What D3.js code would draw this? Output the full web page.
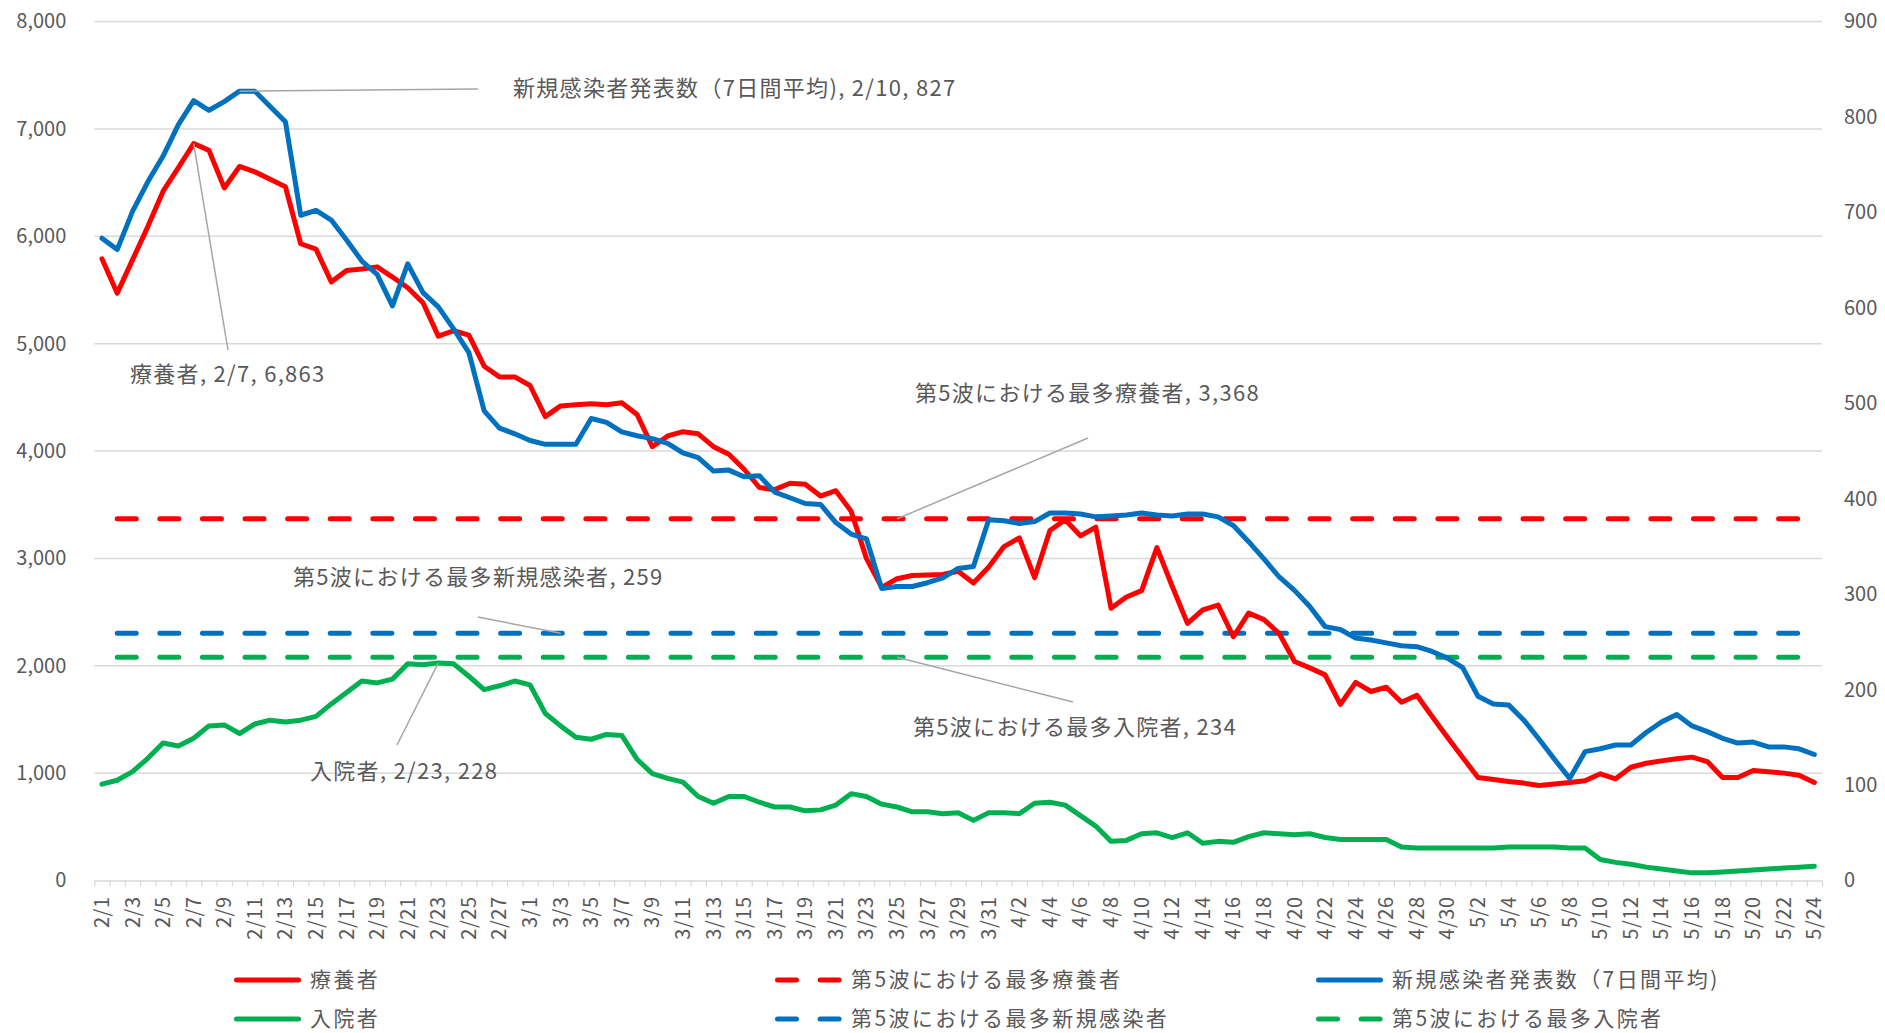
<!DOCTYPE html>
<html>
<head>
<meta charset="utf-8">
<script src="https://cdn.jsdelivr.net/npm/d3@7"></script>
<style>
  html, body { margin: 0; padding: 0; background: #fff; }
  svg { display: block; }
</style>
</head>
<body>
<div id="chart"></div>
<script>
// categories: 2/1 .. 5/24
const dates = d3.timeDay.range(new Date(2022, 1, 1), new Date(2022, 4, 25)).map(d => (d.getMonth() + 1) + "/" + d.getDate());

// 療養者 (left axis)
const ryoyo = [
  5790, 5470, 5780, 6090, 6420, 6640, 6863, 6800, 6450, 6650,
  6600, 6530, 6460, 5930, 5880, 5575, 5680, 5695, 5715, 5620,
  5520, 5380, 5070, 5120, 5080, 4790, 4690, 4690, 4610, 4320,
  4420, 4430, 4440, 4430, 4450, 4340, 4040, 4140, 4180, 4160,
  4040, 3970, 3830, 3660, 3640, 3700, 3690, 3580, 3630, 3440,
  3000, 2730, 2810, 2840, 2845, 2850, 2880, 2770, 2920, 3110,
  3190, 2820, 3260, 3360, 3210, 3290, 2535, 2640, 2700, 3100,
  2740, 2395, 2520, 2565, 2270, 2490, 2430, 2300, 2040, 1980,
  1915, 1640, 1845, 1760, 1800, 1660, 1725, 1527, 1335, 1146,
  960, 940, 922, 907, 885, 898, 913, 929, 994, 947,
  1055, 1092, 1114, 1133, 1149, 1108, 959, 959, 1025, 1012,
  1000, 981, 913
];

// 新規感染者発表数（7日間平均) (right axis)
const newCases = [
  673, 661, 701, 732, 759, 792, 817, 807, 816, 827,
  827, 811, 795, 697, 702, 692, 671, 649, 635, 602,
  646, 616, 601, 578, 553, 492, 474, 468, 461, 457,
  457, 457, 484, 480, 470, 466, 463, 458, 448, 443,
  429, 430, 423, 424, 407, 401, 395, 394, 375, 363,
  358, 306, 308, 308, 312, 317, 327, 329, 378, 377,
  374, 376, 385, 385, 384, 381, 382, 383, 385, 383,
  382, 384, 384, 381, 372, 355, 337, 318, 304, 287,
  266, 263, 254, 252, 249, 246, 245, 240, 233, 223,
  193, 185, 184, 168, 148, 127, 107, 135, 138, 142,
  142, 155, 166, 174, 162, 156, 149, 144, 145, 140,
  140, 138, 132
];

// 入院者 (right axis)
const hospital = [
  101, 105, 114, 128, 144, 141, 149, 162, 163, 154,
  164, 168, 166, 168, 172, 185, 197, 209, 207, 211,
  227, 226, 228, 227, 214, 200, 204, 209, 205, 175,
  162, 150, 148, 153, 152, 127, 112, 107, 103, 88,
  81, 88, 88, 82, 77, 77, 73, 74, 79, 91,
  88, 80, 77, 72, 72, 70, 71, 63, 71, 71,
  70, 81, 82, 79, 68, 57, 41, 42, 49, 50,
  45, 50, 39, 41, 40, 46, 50, 49, 48, 49,
  45, 43, 43, 43, 43, 35, 34, 34, 34, 34,
  34, 34, 35, 35, 35, 35, 34, 34, 22, 19,
  17, 14, 12, 10, 8, 8, 9, 10, 11, 12,
  13, 14, 15
];

// 第5波 peaks
const maxRyoyo = 3368;   // left
const maxNew = 259;      // right
const maxHosp = 234;     // right

const leftTicks = [0, 1000, 2000, 3000, 4000, 5000, 6000, 7000, 8000];
const rightTicks = [0, 100, 200, 300, 400, 500, 600, 700, 800, 900];

const width = 1885, height = 1033;
const margin = {top: 21.5, right: 63, bottom: 152.5, left: 94.3};
const textColor = "#595959";
const gridColor = "#d9d9d9";
const font = "'Noto Sans CJK JP', 'Noto Sans', sans-serif";

const svg = d3.select("#chart").append("svg")
  .attr("width", width)
  .attr("height", height)
  .attr("font-family", font);

svg.append("rect").attr("width", width).attr("height", height).attr("fill", "#fff");

const x = d3.scaleBand()
  .domain(d3.range(dates.length))
  .range([margin.left, width - margin.right])
  .padding(0);
const cx = i => x(i) + x.bandwidth() / 2;

const xEdge = d3.scaleLinear()
  .domain([0, dates.length])
  .range([margin.left, width - margin.right]);

const yL = d3.scaleLinear().domain([0, 8000]).range([height - margin.bottom, margin.top]);
const yR = d3.scaleLinear().domain([0, 900]).range([height - margin.bottom, margin.top]);

// gridlines
svg.append("g")
  .selectAll("line")
  .data(leftTicks.slice(1))
  .join("line")
    .attr("x1", margin.left)
    .attr("x2", width - margin.right)
    .attr("y1", d => yL(d))
    .attr("y2", d => yL(d))
    .attr("stroke", gridColor)
    .attr("stroke-width", 1.5);

// bottom axis with tick marks between categories
svg.append("g")
  .attr("transform", `translate(0,${height - margin.bottom})`)
  .call(d3.axisBottom(xEdge).tickValues(d3.range(dates.length + 1)).tickFormat("").tickSize(6).tickSizeOuter(0))
  .call(g => g.select(".domain").attr("stroke", gridColor).attr("stroke-width", 1.5))
  .call(g => g.selectAll(".tick line").attr("stroke", gridColor).attr("stroke-width", 1.2));

// category labels (every other day)
svg.append("g")
  .attr("transform", `translate(0,${height - margin.bottom})`)
  .call(d3.axisBottom(x).tickValues(d3.range(0, dates.length, 2)).tickFormat(i => dates[i]).tickSize(0))
  .call(g => g.select(".domain").remove())
  .call(g => g.selectAll(".tick text")
    .attr("font-size", 20)
    .attr("font-family", font)
    .attr("fill", textColor)
    .attr("letter-spacing", 0.5)
    .attr("text-anchor", "end")
    .attr("transform", "rotate(-90)")
    .attr("x", -16)
    .attr("y", 0)
    .attr("dy", "0.35em"));

// left axis
svg.append("g")
  .attr("transform", `translate(${margin.left},0)`)
  .call(d3.axisLeft(yL).tickValues(leftTicks).tickFormat(d3.format(",")).tickSize(0).tickPadding(28))
  .call(g => g.select(".domain").remove())
  .call(g => g.selectAll(".tick text").attr("font-size", 20).attr("font-family", font).attr("fill", textColor));

// right axis
svg.append("g")
  .attr("transform", `translate(${width - margin.right},0)`)
  .call(d3.axisRight(yR).tickValues(rightTicks).tickSize(0).tickPadding(22))
  .call(g => g.select(".domain").remove())
  .call(g => g.selectAll(".tick text").attr("font-size", 20).attr("font-family", font).attr("fill", textColor));

// reference (dashed) lines, drawn from 2/2
const dash = "19 23.6";
const refs = [
  {v: maxRyoyo, y: yL, color: "#FF0000"},
  {v: maxNew, y: yR, color: "#0070C0"},
  {v: maxHosp, y: yR, color: "#00B050"}
];
refs.forEach(r => {
  const idx = d3.range(1, dates.length);
  svg.append("path")
    .attr("d", d3.line().x(i => cx(i)).y(() => r.y(r.v))(idx))
    .attr("fill", "none")
    .attr("stroke", r.color)
    .attr("stroke-width", 5)
    .attr("stroke-linecap", "round")
    .attr("stroke-dasharray", dash);
});

// main series
const series = [
  {values: hospital, y: yR, color: "#00B050"},
  {values: ryoyo, y: yL, color: "#FF0000"},
  {values: newCases, y: yR, color: "#0070C0"}
];
series.forEach(s => {
  svg.append("path")
    .attr("d", d3.line().x((d, i) => cx(i)).y(d => s.y(d))(s.values))
    .attr("fill", "none")
    .attr("stroke", s.color)
    .attr("stroke-width", 5)
    .attr("stroke-linejoin", "round")
    .attr("stroke-linecap", "round");
});

// data labels with leader lines
const labels = [
  {i: 9, y: yR(newCases[9]), text: "新規感染者発表数（7日間平均), 2/10, 827", tx: 513, ty: 88, lx: 478, ly: 89},
  {i: 6, y: yL(ryoyo[6]), text: "療養者, 2/7, 6,863", tx: 130, ty: 374, lx: 228, ly: 350},
  {i: 22, y: yR(hospital[22]), text: "入院者, 2/23, 228", tx: 310, ty: 771, lx: 397, ly: 745},
  {i: 30, y: yR(maxNew), text: "第5波における最多新規感染者, 259", tx: 293, ty: 577, lx: 478, ly: 617},
  {i: 52, y: yL(maxRyoyo), text: "第5波における最多療養者, 3,368", tx: 915, ty: 393, lx: 1088, ly: 438},
  {i: 52, y: yR(maxHosp), text: "第5波における最多入院者, 234", tx: 913, ty: 727, lx: 1073, ly: 702}
];
const lab = svg.append("g");
lab.selectAll("line")
  .data(labels)
  .join("line")
    .attr("x1", d => cx(d.i))
    .attr("y1", d => d.y)
    .attr("x2", d => d.lx)
    .attr("y2", d => d.ly)
    .attr("stroke", "#a6a6a6")
    .attr("stroke-width", 1.5);
lab.selectAll("text")
  .data(labels)
  .join("text")
    .attr("x", d => d.tx)
    .attr("y", d => d.ty)
    .attr("dy", "0.35em")
    .attr("font-size", 22)
    .attr("letter-spacing", 1.3)
    .attr("fill", textColor)
    .text(d => d.text);

// legend
const legend = [
  {name: "療養者", color: "#FF0000", dashed: false},
  {name: "第5波における最多療養者", color: "#FF0000", dashed: true},
  {name: "新規感染者発表数（7日間平均)", color: "#0070C0", dashed: false},
  {name: "入院者", color: "#00B050", dashed: false},
  {name: "第5波における最多新規感染者", color: "#0070C0", dashed: true},
  {name: "第5波における最多入院者", color: "#00B050", dashed: true}
];
const legCols = [234, 775, 1316], legRows = [980, 1019];
const lg = svg.append("g")
  .selectAll("g")
  .data(legend)
  .join("g")
    .attr("transform", (d, i) => `translate(${legCols[i % 3]},${legRows[Math.floor(i / 3)]})`);
lg.append("line")
  .attr("x1", 2.5).attr("x2", 64.5)
  .attr("stroke", d => d.color)
  .attr("stroke-width", 5)
  .attr("stroke-linecap", "round")
  .attr("stroke-dasharray", d => d.dashed ? dash : null);
lg.append("text")
  .attr("x", 76)
  .attr("dy", "0.35em")
  .attr("font-size", 21)
  .attr("letter-spacing", 2.4)
  .attr("fill", textColor)
  .text(d => d.name);
</script>
</body>
</html>
